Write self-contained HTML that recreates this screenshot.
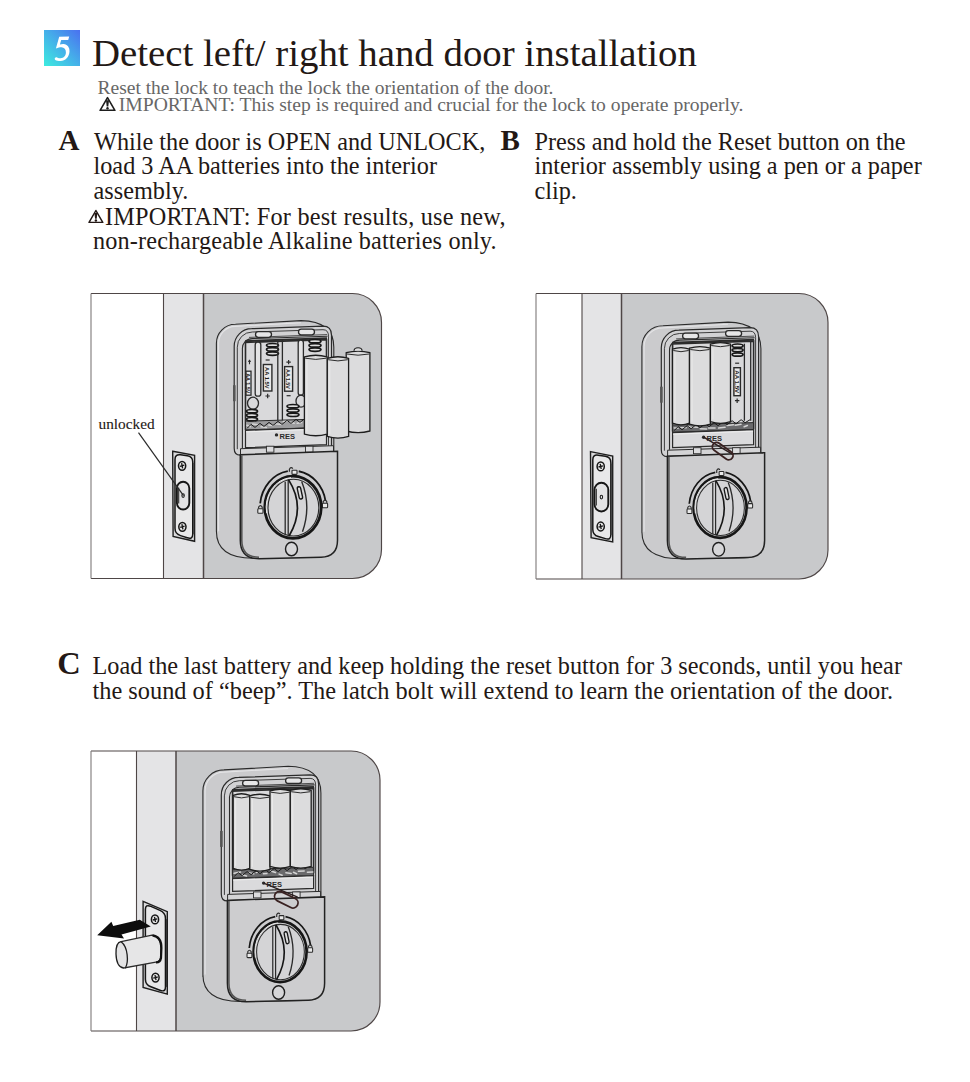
<!DOCTYPE html>
<html><head><meta charset="utf-8"><title>Detect left/ right hand door installation</title>
<style>
html,body{margin:0;padding:0;background:#fff;}
body{width:970px;height:1082px;position:relative;overflow:hidden;font-family:"Liberation Serif",serif;}
.t{position:absolute;white-space:nowrap;line-height:1;}
.ic{position:absolute;}
.ill{position:absolute;left:0;top:0;}
</style></head><body>
<svg class="ill" width="970" height="1082" viewBox="0 0 970 1082">
<rect x="91" y="293.5" width="72.5" height="285.0" fill="#fff"/>
<rect x="163.5" y="293.5" width="40.0" height="285.0" fill="#e4e4e6"/>
<path d="M203.5 293.5 H352.5 A29 29 0 0 1 381.5 322.5 V549.5 A29 29 0 0 1 352.5 578.5 H203.5 Z" fill="#c8c9cb"/>
<path d="M91 293.5 H352.5 A29 29 0 0 1 381.5 322.5 V549.5 A29 29 0 0 1 352.5 578.5 H91" fill="none" stroke="#4e4646" stroke-width="1.15"/>
<line x1="91" y1="293.5" x2="91" y2="578.5" stroke="#7d7878" stroke-width="1.1"/>
<line x1="163.5" y1="293.5" x2="163.5" y2="578.5" stroke="#4e4646" stroke-width="1.1"/>
<line x1="203.5" y1="293.5" x2="203.5" y2="578.5" stroke="#4e4646" stroke-width="1.5"/>
<path d="M172.7 451.3 L194.6 455.4 L194.6 541.3 L173.1 536.5 Z" fill="#d9d9db" stroke="#1e1e1e" stroke-width="1.4"/>
<path d="M175.0 459.5 Q175.0 454.0 180.5 454.7742117117117 L187.26 455.7257882882883 Q192.76 456.5 192.76 462.0 V534.1 Q192.76 539.6 187.26 537.8038288288288 L180.5 535.5961711711712 Q175.0 533.8000000000001 175.0 528.3000000000001 Z" fill="#e8e8e9" stroke="#161616" stroke-width="1.5"/>
<path d="M193.95999999999998 463.0 V534.1" stroke="#2b2b2b" stroke-width="1"/>
<ellipse cx="182.1" cy="465.8" rx="3.6" ry="4.4" fill="#e4e4e4" stroke="#161616" stroke-width="1.5"/>
<path d="M179.9 466.40000000000003 L184.29999999999998 465.2 M181.6 463.2 L182.6 468.40000000000003" stroke="#161616" stroke-width="1.3"/>
<ellipse cx="182.4" cy="526.8" rx="3.6" ry="4.4" fill="#e4e4e4" stroke="#161616" stroke-width="1.5"/>
<path d="M180.20000000000002 527.4 L184.6 526.1999999999999 M181.9 524.1999999999999 L182.9 529.4" stroke="#161616" stroke-width="1.3"/>
<rect x="176.9" y="481.70000000000005" width="12.4" height="27.8" rx="6.2" ry="6.510000000000001" fill="#e3e3e4" stroke="#161616" stroke-width="1.9"/>
<path d="M178.70000000000002 487.70000000000005 V503.5" stroke="#2b2b2b" stroke-width="1.1"/>
<ellipse cx="183.1" cy="495.6" rx="1.2" ry="1.9" fill="none" stroke="#1e1e1e" stroke-width="1.1"/>
<g transform="translate(293 507.2)">
<path d="M-76.6 24 V-164 A19 19 0 0 1 -57.599999999999994 -183 L8 -186.6 Q40.8 -186 40.8 -160 V-50 L44 -50 V30 Q44 50 24 50 L-40 51 Q-76.6 51 -76.6 24 Z" fill="#cbcbcd" stroke="#2b2b2b" stroke-width="1.1"/>
<path d="M-74.39999999999999 24 V-164 A16.8 16.8 0 0 1 -57.599999999999994 -180.8 L8 -184.4" fill="none" stroke="#e4e4e6" stroke-width="1.1"/>
<path d="M-58.8 -59 V-161 A17.5 17.5 0 0 1 -41.3 -178.5 L30 -181 Q38.5 -181 38.5 -172 V-52 L-52.7 -52 Q-58.8 -52 -58.8 -59 Z" fill="#d2d2d4" stroke="#2b2b2b" stroke-width="1.2"/>
<path d="M-55.7 -58 V-160 A15 15 0 0 1 -40.7 -175.2 L30 -177.5 Q35.5 -177.5 35.5 -171 V-55" fill="none" stroke="#2b2b2b" stroke-width="0.9"/>
<path d="M-50.6 -59 V-158 A10 10 0 0 1 -40.6 -168.6 L34.5 -171" fill="none" stroke="#2b2b2b" stroke-width="1.1"/>
<path d="M-47.5 -78 V-164.8 L33.5 -167.5 V-80.5 Z" fill="#d9d9db" stroke="#2b2b2b" stroke-width="1.6"/>
<path d="M-48 -166 L34 -169" stroke="#2b2b2b" stroke-width="2"/>
<path d="M-44 -169.8 L34 -172.6" stroke="#2b2b2b" stroke-width="0.8"/>
<rect x="-37.5" y="-175.5" width="16" height="5.6" rx="2.8" fill="#e6e6e7" stroke="#2b2b2b" stroke-width="1.3"/>
<rect x="5.5" y="-178" width="16" height="5.6" rx="2.8" fill="#e6e6e7" stroke="#2b2b2b" stroke-width="1.3"/>
<path d="M-47.5 -86.0 L33.5 -88.39999999999999 V-79.8 L-47.5 -77.3 Z" fill="#9c9c9e" stroke="#2b2b2b" stroke-width="1"/>
<path d="M-46.0 -81.9 l3.3 1.5 M-40.3 -83.1 l5.2 0.7 M-32.0 -80.4 l5.4 0.6 M-24.2 -82.3 l4.5 0.6 M-17.6 -83.5 l6.2 0.8 M-9.7 -85.8 l4.3 -0.2 M-3.3 -85.0 l4.4 1.1 M4.2 -83.9 l4.4 -0.9 M12.5 -83.7 l6.6 -1.0 M23.0 -86.6 l3.9 -0.2 M29.3 -86.4 l6.4 -1.3" fill="none" stroke="#d4d4d4" stroke-width="1.5" stroke-linecap="round"/>
<path d="M-46 -78.8 l4 -4 l4 3 l5 -4 l4 3 l5 -4 l4 3 l5 -4 l4 3 l5 -4 l4 3 l5 -4 l4 3 l5 -4 l4 3 l5 -4 l4 3 l5 -3" fill="none" stroke="#1a1a1a" stroke-width="1"/>
<path d="M-47.5 -76.8 L33.5 -79.8 V-62.5 L-47.5 -59.5 Z" fill="#dadadc" stroke="#2b2b2b" stroke-width="1.2"/>
<path d="M-47 -75.3 L33 -78.3" stroke="#eeeeee" stroke-width="1"/>
<circle cx="-16.5" cy="-72.3" r="1.7" fill="#2b2b2b"/>
<text x="-13.5" y="-68.6" font-family="Liberation Sans" font-weight="bold" font-size="8" fill="#2b2b2b" textLength="15.5" lengthAdjust="spacingAndGlyphs">RES</text>
<path d="M-52.5 -58.5 L40.5 -61.5 V-55 L-52.5 -52.5 Z" fill="#d4d4d6" stroke="#2b2b2b" stroke-width="1"/>
<rect x="-26.6" y="-61" width="7.5" height="6" fill="#dcdcde" stroke="#2b2b2b" stroke-width="0.9"/>
<rect x="12.5" y="-61" width="7.5" height="6" fill="#dcdcde" stroke="#2b2b2b" stroke-width="0.9"/>
<path d="M-52.7 -52.5 L44.5 -56 V33.0 Q44.5 49.5 28 50.0 L-34 51.5 Q-52.7 51.5 -52.7 33.0 Z" fill="#cdcdcf" stroke="#222" stroke-width="1.5"/>
<path d="M-51.2 -52 V33.0 Q-51.2 50.0 -34 50.0" fill="none" stroke="#555" stroke-width="1.6"/>
<g>
<path d="M-32.82 -3.82 A33 36.5 0 0 1 -5.16 -36.05 M5.73 -35.95 A33 36.5 0 0 1 32.50 -6.34" fill="none" stroke="#161616" stroke-width="1.8"/>
<path d="M-34.4 1.5 V-0.10000000000000009 Q-32.6 -3.0 -30.8 -0.10000000000000009 V1.5" fill="none" stroke="#2b2b2b" stroke-width="1.1"/>
<rect x="-35.2" y="1.5" width="5.2" height="4.6" rx="0.8" fill="#eaeaea" stroke="#2b2b2b" stroke-width="1.1"/>
<path d="M30.2 -4 V-5.6 Q32 -8.5 33.8 -5.6 V-4" fill="none" stroke="#2b2b2b" stroke-width="1.1"/>
<rect x="29.4" y="-4" width="5.2" height="4.6" rx="0.8" fill="#eaeaea" stroke="#2b2b2b" stroke-width="1.1"/>
<path d="M-3.6 -35.5 V-38 Q-2 -41 -0.2 -38.5" fill="none" stroke="#2b2b2b" stroke-width="1.2"/>
<rect x="-1" y="-37" width="5" height="4.2" rx="0.6" fill="#eaeaea" stroke="#2b2b2b" stroke-width="1.1"/>
<ellipse cx="0" cy="0" rx="28.2" ry="31.1" fill="#d0d0d2" stroke="#161616" stroke-width="2.8"/>
<ellipse cx="0.4" cy="0.4" rx="25.4" ry="28.4" fill="#d4d4d6" stroke="#2b2b2b" stroke-width="1.1"/>
<path d="M-26.3 6 A26.6 29.7 0 0 1 -2 -29.6" fill="none" stroke="#ececec" stroke-width="1"/>
<path d="M-7.8 -25.5 V27.5 M-4.8 -27.5 V28.3" stroke="#2b2b2b" stroke-width="1.3"/>
<path d="M-4.5 -27.6 Q13 0 -3.8 28.6" fill="none" stroke="#161616" stroke-width="1.7"/>
<path d="M8.7 -25.7 Q18.5 -1 9.5 24.5" fill="none" stroke="#2b2b2b" stroke-width="1.4"/>
<rect x="5.2" y="-20.6" width="3.4" height="12.5" rx="1.7" transform="rotate(-12 7 -14.4)" fill="#dedede" stroke="#161616" stroke-width="1.4"/>
</g>
<ellipse cx="-1.5" cy="41.8" rx="6" ry="6.8" fill="#d6d6d8" stroke="#1e1e1e" stroke-width="1.4"/>
<rect x="-60" y="-122" width="2.6" height="16" fill="#555"/>
<rect x="-47" y="-136" width="5" height="24" fill="#e9e9e9" stroke="#2b2b2b" stroke-width="1.3"/>
<text transform="translate(-46.8 -134) rotate(90)" font-family="Liberation Sans" font-weight="bold" font-size="5.5" fill="#1a1a1a" textLength="20" lengthAdjust="spacingAndGlyphs">AA 1.5V</text>
<path d="M-45 -146 H-42 M-43.5 -147.5 V-143" stroke="#2b2b2b" stroke-width="1.1"/>
<rect x="-37.8" y="-165" width="5.6" height="54" rx="2.5" fill="#e3e3e4" stroke="#2b2b2b" stroke-width="1.3"/>
<ellipse cx="-20.5" cy="-162.0" rx="6" ry="1.7" fill="#dedede" stroke="#181818" stroke-width="1.7"/><ellipse cx="-20.5" cy="-157.8" rx="6" ry="1.7" fill="#dedede" stroke="#181818" stroke-width="1.7"/><ellipse cx="-20.5" cy="-153.6" rx="6" ry="1.7" fill="#dedede" stroke="#181818" stroke-width="1.7"/>
<rect x="-29.6" y="-142.7" width="8.5" height="26.5" fill="#e9e9e9" stroke="#2b2b2b" stroke-width="1.4"/><text transform="translate(-27.65 -140.20) rotate(90)" font-family="Liberation Sans" font-weight="bold" font-size="6.2" fill="#1a1a1a" textLength="21.5" lengthAdjust="spacingAndGlyphs">AA 1.5V</text><path d="M-27.35 -147.2 H-23.35" stroke="#2b2b2b" stroke-width="1.2"/><path d="M-27.55 -111.19999999999999 H-23.150000000000002 M-25.35 -113.39999999999999 V-108.99999999999999" stroke="#2b2b2b" stroke-width="1.2"/>
<path d="M-15.2 -167 V-87 M-10.6 -167 V-87" stroke="#2b2b2b" stroke-width="1.3"/>
<rect x="-8.4" y="-140.6" width="8" height="24.6" fill="#e9e9e9" stroke="#2b2b2b" stroke-width="1.4"/><text transform="translate(-6.70 -138.10) rotate(90)" font-family="Liberation Sans" font-weight="bold" font-size="6.2" fill="#1a1a1a" textLength="19.6" lengthAdjust="spacingAndGlyphs">AA 1.5V</text><path d="M-6.6000000000000005 -145.1 H-2.2 M-4.4 -147.29999999999998 V-142.9" stroke="#2b2b2b" stroke-width="1.2"/><path d="M-6.4 -111.5 H-2.4000000000000004" stroke="#2b2b2b" stroke-width="1.2"/>
<rect x="5.2" y="-167" width="5.2" height="55" rx="2.5" fill="#e3e3e4" stroke="#2b2b2b" stroke-width="1.3"/>
<ellipse cx="-40" cy="-104" rx="5.5" ry="6" fill="none" stroke="#2b2b2b" stroke-width="1.3"/>
<ellipse cx="-41" cy="-96.0" rx="5.5" ry="1.7" fill="#dedede" stroke="#181818" stroke-width="1.7"/><ellipse cx="-41" cy="-92.0" rx="5.5" ry="1.7" fill="#dedede" stroke="#181818" stroke-width="1.7"/><ellipse cx="-41" cy="-88.0" rx="5.5" ry="1.7" fill="#dedede" stroke="#181818" stroke-width="1.7"/>
<ellipse cx="8" cy="-106" rx="5" ry="6" fill="none" stroke="#2b2b2b" stroke-width="1.3"/>
<ellipse cx="0" cy="-101.0" rx="6" ry="1.7" fill="#dedede" stroke="#181818" stroke-width="1.7"/><ellipse cx="0" cy="-96.7" rx="6" ry="1.7" fill="#dedede" stroke="#181818" stroke-width="1.7"/><ellipse cx="0" cy="-92.4" rx="6" ry="1.7" fill="#dedede" stroke="#181818" stroke-width="1.7"/>
<ellipse cx="22" cy="-166.0" rx="6" ry="1.7" fill="#dedede" stroke="#181818" stroke-width="1.7"/><ellipse cx="22" cy="-161.8" rx="6" ry="1.7" fill="#dedede" stroke="#181818" stroke-width="1.7"/><ellipse cx="22" cy="-157.6" rx="6" ry="1.7" fill="#dedede" stroke="#181818" stroke-width="1.7"/>
</g>
<path d="M346.2 352.7 V431.0 Q358.04999999999995 434.3 369.9 431.0 V352.7 Q358.04999999999995 349.4 346.2 352.7 Z" fill="#dcdcdd" stroke="#1e1e1e" stroke-width="1.3"/>
<path d="M347.0 354.0 Q358.04999999999995 356.4 369.09999999999997 354.0" fill="none" stroke="#2b2b2b" stroke-width="1"/>
<path d="M348.7 356.2 V428.5" stroke="#eaeaea" stroke-width="1"/>
<path d="M354.04999999999995 350.7 Q354.04999999999995 347.7 358.04999999999995 347.7 Q362.04999999999995 347.7 362.04999999999995 350.7" fill="#dcdcdd" stroke="#1e1e1e" stroke-width="1.1"/>
<path d="M327.3 358.4 V436.4 Q337.95000000000005 439.7 348.6 436.4 V358.4 Q337.95000000000005 355.09999999999997 327.3 358.4 Z" fill="#dcdcdd" stroke="#1e1e1e" stroke-width="1.3"/>
<path d="M328.1 359.7 Q337.95000000000005 362.09999999999997 347.8 359.7" fill="none" stroke="#2b2b2b" stroke-width="1"/>
<path d="M329.8 361.9 V433.9" stroke="#eaeaea" stroke-width="1"/>
<path d="M304.4 356.9 V434.1 Q315.75 437.40000000000003 327.1 434.1 V356.9 Q315.75 353.59999999999997 304.4 356.9 Z" fill="#dcdcdd" stroke="#1e1e1e" stroke-width="1.3"/>
<path d="M305.2 358.2 Q315.75 360.59999999999997 326.3 358.2" fill="none" stroke="#2b2b2b" stroke-width="1"/>
<path d="M306.9 360.4 V431.6" stroke="#eaeaea" stroke-width="1"/>
<path d="M138.5 432.6 L183.5 495.6" stroke="#2b2b2b" stroke-width="1.2"/>
<rect x="536" y="293.5" width="46" height="285.5" fill="#fff"/>
<rect x="582" y="293.5" width="39.5" height="285.5" fill="#e4e4e6"/>
<path d="M621.5 293.5 H799 A29 29 0 0 1 828 322.5 V550 A29 29 0 0 1 799 579 H621.5 Z" fill="#c8c9cb"/>
<path d="M536 293.5 H799 A29 29 0 0 1 828 322.5 V550 A29 29 0 0 1 799 579 H536" fill="none" stroke="#4e4646" stroke-width="1.15"/>
<line x1="536" y1="293.5" x2="536" y2="579" stroke="#7d7878" stroke-width="1.1"/>
<line x1="582" y1="293.5" x2="582" y2="579" stroke="#4e4646" stroke-width="1.1"/>
<line x1="621.5" y1="293.5" x2="621.5" y2="579" stroke="#4e4646" stroke-width="1.5"/>
<path d="M590.5 451.6 L612.7 456.1 L612.7 542 L591.1 537.6 Z" fill="#d9d9db" stroke="#1e1e1e" stroke-width="1.4"/>
<path d="M592.8 459.8 Q592.8 454.3 598.3 455.18316722037656 L605.36 456.3168327796235 Q610.86 457.20000000000005 610.86 462.70000000000005 V534.8000000000001 Q610.86 540.3000000000001 605.36 538.6554817275749 L598.3 536.5445182724253 Q592.8 534.9000000000001 592.8 529.4000000000001 Z" fill="#e8e8e9" stroke="#161616" stroke-width="1.5"/>
<path d="M612.0600000000001 463.70000000000005 V534.8000000000001" stroke="#2b2b2b" stroke-width="1"/>
<ellipse cx="600.7" cy="466.4" rx="3.6" ry="4.4" fill="#e4e4e4" stroke="#161616" stroke-width="1.5"/>
<path d="M598.5 467.0 L602.9000000000001 465.79999999999995 M600.2 463.79999999999995 L601.2 469.0" stroke="#161616" stroke-width="1.3"/>
<ellipse cx="600.7" cy="526.5" rx="3.6" ry="4.4" fill="#e4e4e4" stroke="#161616" stroke-width="1.5"/>
<path d="M598.5 527.1 L602.9000000000001 525.9 M600.2 523.9 L601.2 529.1" stroke="#161616" stroke-width="1.3"/>
<rect x="594.5" y="482.70000000000005" width="13.8" height="28.8" rx="6.9" ry="7.245000000000001" fill="#e3e3e4" stroke="#161616" stroke-width="1.9"/>
<path d="M596.3 488.70000000000005 V505.5" stroke="#2b2b2b" stroke-width="1.1"/>
<ellipse cx="601.4" cy="497.1" rx="1.2" ry="1.9" fill="none" stroke="#1e1e1e" stroke-width="1.1"/>
<g transform="translate(720.1 508.7)">
<path d="M-78.2 24 V-162 A21 21 0 0 1 -57.2 -183 L8 -186.6 Q40.8 -186 40.8 -160 V-50 L44 -50 V30 Q44 49 24 49 L-40 50 Q-78.2 50 -78.2 23 Z" fill="#cbcbcd" stroke="#2b2b2b" stroke-width="1.1"/>
<path d="M-76.0 23 V-162 A18.8 18.8 0 0 1 -57.2 -180.8 L8 -184.4" fill="none" stroke="#e4e4e6" stroke-width="1.1"/>
<path d="M-58.8 -59 V-161 A17.5 17.5 0 0 1 -41.3 -178.5 L30 -181 Q38.5 -181 38.5 -172 V-52 L-52.7 -52 Q-58.8 -52 -58.8 -59 Z" fill="#d2d2d4" stroke="#2b2b2b" stroke-width="1.2"/>
<path d="M-55.7 -58 V-160 A15 15 0 0 1 -40.7 -175.2 L30 -177.5 Q35.5 -177.5 35.5 -171 V-55" fill="none" stroke="#2b2b2b" stroke-width="0.9"/>
<path d="M-50.6 -59 V-158 A10 10 0 0 1 -40.6 -168.6 L34.5 -171" fill="none" stroke="#2b2b2b" stroke-width="1.1"/>
<path d="M-47.5 -78 V-164.8 L33.5 -167.5 V-80.5 Z" fill="#d9d9db" stroke="#2b2b2b" stroke-width="1.6"/>
<path d="M-48 -166 L34 -169" stroke="#2b2b2b" stroke-width="2"/>
<path d="M-44 -169.8 L34 -172.6" stroke="#2b2b2b" stroke-width="0.8"/>
<rect x="-37.5" y="-175.5" width="16" height="5.6" rx="2.8" fill="#e6e6e7" stroke="#2b2b2b" stroke-width="1.3"/>
<rect x="5.5" y="-178" width="16" height="5.6" rx="2.8" fill="#e6e6e7" stroke="#2b2b2b" stroke-width="1.3"/>
<path d="M-47.5 -83.7 L33.5 -86.1 V-79.0 L-47.5 -76.5 Z" fill="#6a6a6c" stroke="#2b2b2b" stroke-width="1"/>
<path d="M-46.0 -80.8 l4.1 0.2 M-39.2 -81.0 l5.3 0.1 M-31.9 -82.1 l3.4 0.8 M-26.9 -81.6 l4.4 0.2 M-19.9 -80.0 l6.4 0.2 M-11.5 -80.6 l6.5 -0.1 M-1.5 -80.6 l6.5 -0.8 M7.1 -83.2 l6.2 -0.7 M15.0 -83.5 l6.0 -1.0 M24.0 -81.9 l3.3 -1.3" fill="none" stroke="#d4d4d4" stroke-width="1.5" stroke-linecap="round"/>
<path d="M-46 -78.0 l4 -4 l4 3 l5 -4 l4 3 l5 -4 l4 3 l5 -4 l4 3 l5 -4 l4 3 l5 -4 l4 3 l5 -4 l4 3 l5 -4 l4 3 l5 -3" fill="none" stroke="#1a1a1a" stroke-width="1"/>
<path d="M-47.5 -76.0 L33.5 -79.0 V-64 L-47.5 -61 Z" fill="#dadadc" stroke="#2b2b2b" stroke-width="1.2"/>
<path d="M-47 -74.5 L33 -77.5" stroke="#eeeeee" stroke-width="1"/>
<circle cx="-16.5" cy="-71.5" r="1.7" fill="#2b2b2b"/>
<text x="-13.5" y="-67.8" font-family="Liberation Sans" font-weight="bold" font-size="8" fill="#2b2b2b" textLength="15.5" lengthAdjust="spacingAndGlyphs">RES</text>
<path d="M-52.5 -58.5 L40.5 -61.5 V-55 L-52.5 -52.5 Z" fill="#d4d4d6" stroke="#2b2b2b" stroke-width="1"/>
<rect x="-26.6" y="-61" width="7.5" height="6" fill="#dcdcde" stroke="#2b2b2b" stroke-width="0.9"/>
<rect x="12.5" y="-61" width="7.5" height="6" fill="#dcdcde" stroke="#2b2b2b" stroke-width="0.9"/>
<path d="M-52.7 -52.5 L44.5 -56 V31.700000000000003 Q44.5 48.2 28 48.7 L-34 50.2 Q-52.7 50.2 -52.7 31.700000000000003 Z" fill="#cdcdcf" stroke="#222" stroke-width="1.5"/>
<path d="M-51.2 -52 V31.700000000000003 Q-51.2 48.7 -34 48.7" fill="none" stroke="#555" stroke-width="1.6"/>
<g transform="translate(0 -1.2) scale(0.94 0.975)">
<path d="M-32.82 -3.82 A33 36.5 0 0 1 -5.16 -36.05 M5.73 -35.95 A33 36.5 0 0 1 32.50 -6.34" fill="none" stroke="#161616" stroke-width="1.8"/>
<path d="M-34.4 1.5 V-0.10000000000000009 Q-32.6 -3.0 -30.8 -0.10000000000000009 V1.5" fill="none" stroke="#2b2b2b" stroke-width="1.1"/>
<rect x="-35.2" y="1.5" width="5.2" height="4.6" rx="0.8" fill="#eaeaea" stroke="#2b2b2b" stroke-width="1.1"/>
<path d="M30.2 -4 V-5.6 Q32 -8.5 33.8 -5.6 V-4" fill="none" stroke="#2b2b2b" stroke-width="1.1"/>
<rect x="29.4" y="-4" width="5.2" height="4.6" rx="0.8" fill="#eaeaea" stroke="#2b2b2b" stroke-width="1.1"/>
<path d="M-3.6 -35.5 V-38 Q-2 -41 -0.2 -38.5" fill="none" stroke="#2b2b2b" stroke-width="1.2"/>
<rect x="-1" y="-37" width="5" height="4.2" rx="0.6" fill="#eaeaea" stroke="#2b2b2b" stroke-width="1.1"/>
<ellipse cx="0" cy="0" rx="28.2" ry="31.1" fill="#d0d0d2" stroke="#161616" stroke-width="2.8"/>
<ellipse cx="0.4" cy="0.4" rx="25.4" ry="28.4" fill="#d4d4d6" stroke="#2b2b2b" stroke-width="1.1"/>
<path d="M-26.3 6 A26.6 29.7 0 0 1 -2 -29.6" fill="none" stroke="#ececec" stroke-width="1"/>
<path d="M-7.8 -25.5 V27.5 M-4.8 -27.5 V28.3" stroke="#2b2b2b" stroke-width="1.3"/>
<path d="M-4.5 -27.6 Q13 0 -3.8 28.6" fill="none" stroke="#161616" stroke-width="1.7"/>
<path d="M8.7 -25.7 Q18.5 -1 9.5 24.5" fill="none" stroke="#2b2b2b" stroke-width="1.4"/>
<rect x="5.2" y="-20.6" width="3.4" height="12.5" rx="1.7" transform="rotate(-12 7 -14.4)" fill="#dedede" stroke="#161616" stroke-width="1.4"/>
</g>
<ellipse cx="-1.5" cy="40.6" rx="6" ry="6.8" fill="#d6d6d8" stroke="#1e1e1e" stroke-width="1.4"/>
<rect x="-60" y="-122" width="2.6" height="16" fill="#555"/>
<path d="M-47.6 -159.5 V-85.5 Q-39.1 -82.2 -30.6 -85.5 V-159.5 Q-39.1 -162.8 -47.6 -159.5 Z" fill="#dcdcdd" stroke="#1e1e1e" stroke-width="1.3"/>
<path d="M-46.800000000000004 -158.2 Q-39.1 -155.8 -31.400000000000002 -158.2" fill="none" stroke="#2b2b2b" stroke-width="1"/>
<path d="M-45.1 -156 V-88" stroke="#eaeaea" stroke-width="1"/>
<path d="M-30.6 -160.5 V-84.5 Q-20.15 -81.2 -9.7 -84.5 V-160.5 Q-20.15 -163.8 -30.6 -160.5 Z" fill="#dcdcdd" stroke="#1e1e1e" stroke-width="1.3"/>
<path d="M-29.8 -159.2 Q-20.15 -156.8 -10.5 -159.2" fill="none" stroke="#2b2b2b" stroke-width="1"/>
<path d="M-28.1 -157 V-87" stroke="#eaeaea" stroke-width="1"/>
<path d="M-9.7 -164.5 V-87.0 Q0.35000000000000053 -83.7 10.4 -87.0 V-164.5 Q0.35000000000000053 -167.8 -9.7 -164.5 Z" fill="#dcdcdd" stroke="#1e1e1e" stroke-width="1.3"/>
<path d="M-8.899999999999999 -163.2 Q0.35000000000000053 -160.8 9.6 -163.2" fill="none" stroke="#2b2b2b" stroke-width="1"/>
<path d="M-7.199999999999999 -161 V-89.5" stroke="#eaeaea" stroke-width="1"/>
<ellipse cx="17.5" cy="-163.0" rx="5.5" ry="1.7" fill="#dedede" stroke="#181818" stroke-width="1.7"/><ellipse cx="17.5" cy="-158.6" rx="5.5" ry="1.7" fill="#dedede" stroke="#181818" stroke-width="1.7"/><ellipse cx="17.5" cy="-154.2" rx="5.5" ry="1.7" fill="#dedede" stroke="#181818" stroke-width="1.7"/>
<rect x="13.8" y="-141" width="6.5" height="28" fill="#e9e9e9" stroke="#2b2b2b" stroke-width="1.4"/><text transform="translate(14.75 -138.50) rotate(90)" font-family="Liberation Sans" font-weight="bold" font-size="6.2" fill="#1a1a1a" textLength="23.0" lengthAdjust="spacingAndGlyphs">AA 1.5V</text><path d="M15.05 -145.5 H19.05" stroke="#2b2b2b" stroke-width="1.2"/><path d="M14.850000000000001 -108 H19.25 M17.05 -110.2 V-105.8" stroke="#2b2b2b" stroke-width="1.2"/>
<path d="M24.3 -165 V-88 M30.6 -167 V-88" stroke="#2b2b2b" stroke-width="1.3"/>
<path d="M-16.5 -71.5 L13 -54" stroke="#2a1e1e" stroke-width="1.4"/>
<g transform="translate(2.6 -57.6) rotate(36)"><rect x="-11.75" y="-4.3" width="23.5" height="8.6" rx="4.3" fill="none" stroke="#3a2222" stroke-width="1.8"/></g>
</g>
<rect x="91" y="751" width="45.5" height="280" fill="#fff"/>
<rect x="136.5" y="751" width="39.5" height="280" fill="#e4e4e6"/>
<path d="M176 751 H351 A29 29 0 0 1 380 780 V1002 A29 29 0 0 1 351 1031 H176 Z" fill="#c8c9cb"/>
<path d="M91 751 H351 A29 29 0 0 1 380 780 V1002 A29 29 0 0 1 351 1031 H91" fill="none" stroke="#4e4646" stroke-width="1.15"/>
<line x1="91" y1="751" x2="91" y2="1031" stroke="#7d7878" stroke-width="1.1"/>
<line x1="136.5" y1="751" x2="136.5" y2="1031" stroke="#4e4646" stroke-width="1.1"/>
<line x1="176" y1="751" x2="176" y2="1031" stroke="#4e4646" stroke-width="1.5"/>
<path d="M143.1 901.3 L167.3 911.6 L167.3 994.1 L143.1 987.4 Z" fill="#d9d9db" stroke="#1e1e1e" stroke-width="1.4"/>
<path d="M145.4 909.4999999999999 Q145.4 903.9999999999999 150.9 906.3853439680956 L159.96 910.3146560319042 Q165.46 912.6999999999999 165.46 918.1999999999999 V986.9000000000001 Q165.46 992.4000000000001 159.96 990.2888334995016 L150.9 986.8111665004985 Q145.4 984.7 145.4 979.2 Z" fill="#e8e8e9" stroke="#161616" stroke-width="1.5"/>
<path d="M166.66 919.1999999999999 V986.9000000000001" stroke="#2b2b2b" stroke-width="1"/>
<ellipse cx="155" cy="919.4" rx="3.6" ry="4.4" fill="#e4e4e4" stroke="#161616" stroke-width="1.5"/>
<path d="M152.8 920.0 L157.2 918.8 M154.5 916.8 L155.5 922.0" stroke="#161616" stroke-width="1.3"/>
<ellipse cx="155.5" cy="977.6" rx="3.6" ry="4.4" fill="#e4e4e4" stroke="#161616" stroke-width="1.5"/>
<path d="M153.3 978.2 L157.7 977.0 M155.0 975.0 L156.0 980.2" stroke="#161616" stroke-width="1.3"/>
<path d="M121.1 941.7 L152 935.2 Q160.7 936 160.9 948 L160.5 958 Q159.5 962 155.8 962.1 L125.5 967.7 Z" fill="#e6e6e7" stroke="#2b2b2b" stroke-width="1.2"/>
<path d="M152.5 935.3 Q161.6 936.6 161.4 948 L161 958 Q160.2 962.6 156 962.4" fill="none" stroke="#111" stroke-width="2.2"/>
<path d="M121.1 941.7 C117 942.2 115.8 947 116 954 C116.2 961 118.5 967.2 123.5 968 L125.5 967.7 C128.6 962 128.2 947 121.1 941.7 Z" fill="#e3e3e4" stroke="#1e1e1e" stroke-width="1.3"/>
<path d="M97.2 935.2 L111.4 921.8 L113.2 926 L139.8 919.8 L150.8 926.4 L121.5 934.6 L124 938.4 Z" fill="#0d0d0d"/>
<g transform="translate(280.1 952.9)">
<path d="M-77.2 24 V-162 A21 21 0 0 1 -56.2 -183 L8 -186.6 Q40.8 -186 40.8 -160 V-50 L44 -50 V30 Q44 47.5 24 47.5 L-40 48.5 Q-77.2 48.5 -77.2 21.5 Z" fill="#cbcbcd" stroke="#2b2b2b" stroke-width="1.1"/>
<path d="M-75.0 21.5 V-162 A18.8 18.8 0 0 1 -56.2 -180.8 L8 -184.4" fill="none" stroke="#e4e4e6" stroke-width="1.1"/>
<path d="M-58.8 -59 V-158 A17.5 17.5 0 0 1 -41.3 -175.5 L30 -178 Q38.5 -178 38.5 -169 V-52 L-52.7 -52 Q-58.8 -52 -58.8 -59 Z" fill="#d2d2d4" stroke="#2b2b2b" stroke-width="1.2"/>
<path d="M-55.7 -58 V-157 A15 15 0 0 1 -40.7 -172.2 L30 -174.5 Q35.5 -174.5 35.5 -168 V-55" fill="none" stroke="#2b2b2b" stroke-width="0.9"/>
<path d="M-50.6 -59 V-155 A10 10 0 0 1 -40.6 -165.6 L34.5 -168" fill="none" stroke="#2b2b2b" stroke-width="1.1"/>
<path d="M-47.5 -78 V-161.8 L33.5 -164.5 V-80.5 Z" fill="#d9d9db" stroke="#2b2b2b" stroke-width="1.6"/>
<path d="M-48 -163 L34 -166" stroke="#2b2b2b" stroke-width="2"/>
<path d="M-44 -166.8 L34 -169.6" stroke="#2b2b2b" stroke-width="0.8"/>
<rect x="-37.5" y="-172.5" width="16" height="5.6" rx="2.8" fill="#e6e6e7" stroke="#2b2b2b" stroke-width="1.3"/>
<rect x="5.5" y="-175" width="16" height="5.6" rx="2.8" fill="#e6e6e7" stroke="#2b2b2b" stroke-width="1.3"/>
<path d="M-47.5 -83.2 L33.5 -85.6 V-77.3 L-47.5 -74.8 Z" fill="#6a6a6c" stroke="#2b2b2b" stroke-width="1"/>
<path d="M-46.0 -79.6 l6.4 -1.2 M-37.8 -78.2 l4.2 1.3 M-31.1 -80.3 l4.8 1.3 M-23.8 -80.3 l4.3 -1.5 M-16.7 -79.1 l3.5 -0.2 M-9.3 -81.9 l4.7 1.5 M-1.0 -78.8 l3.0 1.1 M5.8 -80.1 l5.3 0.6 M13.4 -80.6 l3.1 1.4 M18.3 -81.7 l5.8 -0.3 M27.3 -80.6 l5.4 -0.2" fill="none" stroke="#d4d4d4" stroke-width="1.5" stroke-linecap="round"/>
<path d="M-46 -76.3 l4 -4 l4 3 l5 -4 l4 3 l5 -4 l4 3 l5 -4 l4 3 l5 -4 l4 3 l5 -4 l4 3 l5 -4 l4 3 l5 -4 l4 3 l5 -3" fill="none" stroke="#1a1a1a" stroke-width="1"/>
<path d="M-47.5 -74.3 L33.5 -77.3 V-64.5 L-47.5 -61.5 Z" fill="#dadadc" stroke="#2b2b2b" stroke-width="1.2"/>
<path d="M-47 -72.8 L33 -75.8" stroke="#eeeeee" stroke-width="1"/>
<circle cx="-16.5" cy="-69.8" r="1.7" fill="#2b2b2b"/>
<text x="-13.5" y="-66.1" font-family="Liberation Sans" font-weight="bold" font-size="8" fill="#2b2b2b" textLength="15.5" lengthAdjust="spacingAndGlyphs">RES</text>
<path d="M-52.5 -58.5 L40.5 -61.5 V-55 L-52.5 -52.5 Z" fill="#d4d4d6" stroke="#2b2b2b" stroke-width="1"/>
<rect x="-26.6" y="-61" width="7.5" height="6" fill="#dcdcde" stroke="#2b2b2b" stroke-width="0.9"/>
<rect x="12.5" y="-61" width="7.5" height="6" fill="#dcdcde" stroke="#2b2b2b" stroke-width="0.9"/>
<path d="M-52.7 -52.5 L44.5 -56 V30.299999999999997 Q44.5 46.8 28 47.3 L-34 48.8 Q-52.7 48.8 -52.7 30.299999999999997 Z" fill="#cdcdcf" stroke="#222" stroke-width="1.5"/>
<path d="M-51.2 -52 V30.299999999999997 Q-51.2 47.3 -34 47.3" fill="none" stroke="#555" stroke-width="1.6"/>
<g transform="translate(0 -1.2) scale(0.94 0.975)">
<path d="M-32.82 -3.82 A33 36.5 0 0 1 -5.16 -36.05 M5.73 -35.95 A33 36.5 0 0 1 32.50 -6.34" fill="none" stroke="#161616" stroke-width="1.8"/>
<path d="M-34.4 1.5 V-0.10000000000000009 Q-32.6 -3.0 -30.8 -0.10000000000000009 V1.5" fill="none" stroke="#2b2b2b" stroke-width="1.1"/>
<rect x="-35.2" y="1.5" width="5.2" height="4.6" rx="0.8" fill="#eaeaea" stroke="#2b2b2b" stroke-width="1.1"/>
<path d="M30.2 -4 V-5.6 Q32 -8.5 33.8 -5.6 V-4" fill="none" stroke="#2b2b2b" stroke-width="1.1"/>
<rect x="29.4" y="-4" width="5.2" height="4.6" rx="0.8" fill="#eaeaea" stroke="#2b2b2b" stroke-width="1.1"/>
<path d="M-3.6 -35.5 V-38 Q-2 -41 -0.2 -38.5" fill="none" stroke="#2b2b2b" stroke-width="1.2"/>
<rect x="-1" y="-37" width="5" height="4.2" rx="0.6" fill="#eaeaea" stroke="#2b2b2b" stroke-width="1.1"/>
<ellipse cx="0" cy="0" rx="28.2" ry="31.1" fill="#d0d0d2" stroke="#161616" stroke-width="2.8"/>
<ellipse cx="0.4" cy="0.4" rx="25.4" ry="28.4" fill="#d4d4d6" stroke="#2b2b2b" stroke-width="1.1"/>
<path d="M-26.3 6 A26.6 29.7 0 0 1 -2 -29.6" fill="none" stroke="#ececec" stroke-width="1"/>
<path d="M-7.8 -25.5 V27.5 M-4.8 -27.5 V28.3" stroke="#2b2b2b" stroke-width="1.3"/>
<path d="M-4.5 -27.6 Q13 0 -3.8 28.6" fill="none" stroke="#161616" stroke-width="1.7"/>
<path d="M8.7 -25.7 Q18.5 -1 9.5 24.5" fill="none" stroke="#2b2b2b" stroke-width="1.4"/>
<rect x="5.2" y="-20.6" width="3.4" height="12.5" rx="1.7" transform="rotate(-12 7 -14.4)" fill="#dedede" stroke="#161616" stroke-width="1.4"/>
</g>
<ellipse cx="-1.5" cy="39.6" rx="6" ry="6.8" fill="#d6d6d8" stroke="#1e1e1e" stroke-width="1.4"/>
<rect x="-60" y="-122" width="2.6" height="16" fill="#555"/>
<path d="M-46.9 -157.5 V-84.5 Q-38.6 -81.2 -30.3 -84.5 V-157.5 Q-38.6 -160.8 -46.9 -157.5 Z" fill="#dcdcdd" stroke="#1e1e1e" stroke-width="1.3"/>
<path d="M-46.1 -156.2 Q-38.6 -153.8 -31.1 -156.2" fill="none" stroke="#2b2b2b" stroke-width="1"/>
<path d="M-44.4 -154 V-87" stroke="#eaeaea" stroke-width="1"/>
<path d="M-30.3 -157.0 V-83.5 Q-20.2 -80.2 -10.1 -83.5 V-157.0 Q-20.2 -160.3 -30.3 -157.0 Z" fill="#dcdcdd" stroke="#1e1e1e" stroke-width="1.3"/>
<path d="M-29.5 -155.7 Q-20.2 -153.3 -10.9 -155.7" fill="none" stroke="#2b2b2b" stroke-width="1"/>
<path d="M-27.8 -153.5 V-86" stroke="#eaeaea" stroke-width="1"/>
<path d="M-10.1 -162.0 V-86.5 Q0.04999999999999982 -83.2 10.2 -86.5 V-162.0 Q0.04999999999999982 -165.3 -10.1 -162.0 Z" fill="#dcdcdd" stroke="#1e1e1e" stroke-width="1.3"/>
<path d="M-9.299999999999999 -160.7 Q0.04999999999999982 -158.3 9.399999999999999 -160.7" fill="none" stroke="#2b2b2b" stroke-width="1"/>
<path d="M-7.6 -158.5 V-89" stroke="#eaeaea" stroke-width="1"/>
<path d="M10.2 -162.5 V-86.5 Q20.65 -83.2 31.1 -86.5 V-162.5 Q20.65 -165.8 10.2 -162.5 Z" fill="#dcdcdd" stroke="#1e1e1e" stroke-width="1.3"/>
<path d="M11.0 -161.2 Q20.65 -158.8 30.3 -161.2" fill="none" stroke="#2b2b2b" stroke-width="1"/>
<path d="M12.7 -159 V-89" stroke="#eaeaea" stroke-width="1"/>
<path d="M-16.5 -69.8 L17.6 -55.8" stroke="#2a1e1e" stroke-width="1.4"/>
<g transform="translate(6.2 -53.2) rotate(26)"><rect x="-12.5" y="-5.0" width="25" height="10" rx="5.0" fill="none" stroke="#3a2222" stroke-width="1.8"/></g>
</g>
<text x="98.5" y="429.2" font-family="Liberation Serif" font-size="15.3" fill="#231815" stroke="#231815" stroke-width="0.1">unlocked</text>
</svg>

<div style="position:absolute;left:44px;top:30px;width:36px;height:36px;background:linear-gradient(45deg,#3decdf 0%,#45b0e9 50%,#4a70f0 100%);"></div><svg class="ic" style="left:44px;top:30px" width="36" height="36" viewBox="44 30 36 36"><path d="M59.2 36.7 L69.2 36.6 L68.2 39.9 L61.2 40.1 L59.9 44.6 C61.2 44.1 62.5 43.9 63.6 44.0 C67.4 44.4 69.7 47.3 69.5 51.5 C69.2 57.0 65.3 60.9 60.6 61.0 C58.3 61.0 56.4 60.6 55.3 59.9 C54.4 59.3 54.5 58.0 55.6 57.5 C56.6 57.1 57.4 57.6 58.0 57.9 C59.0 58.2 59.9 58.3 60.6 58.2 C63.8 58.0 65.8 55.5 65.9 52.4 C66.0 49.3 64.2 47.4 61.5 47.3 C59.8 47.3 58.1 47.8 55.9 48.6 Z" fill="#fff"/></svg><div class="t" style="left:92.0px;top:33.7px;font-size:38.85px;color:#231815;font-weight:normal;font-family:'Liberation Serif',serif;">Detect left/ right hand door installation</div>
<div class="t" style="left:97.5px;top:77.8px;font-size:19.5px;color:#676767;font-weight:normal;font-family:'Liberation Serif',serif;">Reset the lock to teach the lock the orientation of the door.</div>
<svg class="ic" style="left:98.5px;top:95.5px" width="17" height="15.5" viewBox="0 0 17 15.5"><path d="M8.50 1.60 L15.88 14.38 L1.12 14.38 Z" fill="none" stroke="#1e1e1e" stroke-width="1.6" stroke-linejoin="round"/><path d="M7.00 4.34 L10.00 4.34 L9.30 10.54 L7.70 10.54 Z" fill="#1e1e1e"/><circle cx="8.50" cy="12.25" r="1.2" fill="#1e1e1e"/></svg>
<div class="t" style="left:118.8px;top:94.5px;font-size:19.62px;color:#676767;font-weight:normal;font-family:'Liberation Serif',serif;">IMPORTANT: This step is required and crucial for the lock to operate properly.</div>
<div class="t" style="left:58.5px;top:126.1px;font-size:29px;color:#231815;font-weight:bold;font-family:'Liberation Serif',serif;">A</div>
<div class="t" style="left:94.0px;top:129.6px;font-size:24.25px;color:#231815;font-weight:normal;font-family:'Liberation Serif',serif;">While the door is OPEN and UNLOCK,</div>
<div class="t" style="left:93.5px;top:154.3px;font-size:24.25px;color:#231815;font-weight:normal;font-family:'Liberation Serif',serif;">load 3 AA batteries into the interior</div>
<div class="t" style="left:93.5px;top:178.7px;font-size:24.25px;color:#231815;font-weight:normal;font-family:'Liberation Serif',serif;">assembly.</div>
<svg class="ic" style="left:88.3px;top:208.5px" width="15.8" height="14.5" viewBox="0 0 15.8 14.5"><path d="M7.90 1.50 L14.75 13.45 L1.05 13.45 Z" fill="none" stroke="#231815" stroke-width="1.5" stroke-linejoin="round"/><path d="M6.40 4.06 L9.40 4.06 L8.70 9.86 L7.10 9.86 Z" fill="#231815"/><circle cx="7.90" cy="11.46" r="1.2" fill="#231815"/></svg>
<div class="t" style="left:105.0px;top:204.6px;font-size:24.25px;color:#231815;font-weight:normal;font-family:'Liberation Serif',serif;letter-spacing:0.2px;">IMPORTANT: For best results, use new,</div>
<div class="t" style="left:93.0px;top:229.4px;font-size:24.25px;color:#231815;font-weight:normal;font-family:'Liberation Serif',serif;letter-spacing:0.14px;">non-rechargeable Alkaline batteries only.</div>
<div class="t" style="left:500.5px;top:126.1px;font-size:29px;color:#231815;font-weight:bold;font-family:'Liberation Serif',serif;">B</div>
<div class="t" style="left:534.5px;top:129.6px;font-size:24.25px;color:#231815;font-weight:normal;font-family:'Liberation Serif',serif;">Press and hold the Reset button on the</div>
<div class="t" style="left:534.5px;top:154.3px;font-size:24.25px;color:#231815;font-weight:normal;font-family:'Liberation Serif',serif;">interior assembly using a pen or a paper</div>
<div class="t" style="left:534.5px;top:178.7px;font-size:24.25px;color:#231815;font-weight:normal;font-family:'Liberation Serif',serif;">clip.</div>
<div class="t" style="left:57.2px;top:647.4px;font-size:32.5px;color:#231815;font-weight:bold;font-family:'Liberation Serif',serif;">C</div>
<div class="t" style="left:92.5px;top:653.6px;font-size:24.25px;color:#231815;font-weight:normal;font-family:'Liberation Serif',serif;">Load the last battery and keep holding the reset button for 3 seconds, until you hear</div>
<div class="t" style="left:92.5px;top:678.7px;font-size:24.35px;color:#231815;font-weight:normal;font-family:'Liberation Serif',serif;">the sound of “beep”. The latch bolt will extend to learn the orientation of the door.</div>

</body></html>
